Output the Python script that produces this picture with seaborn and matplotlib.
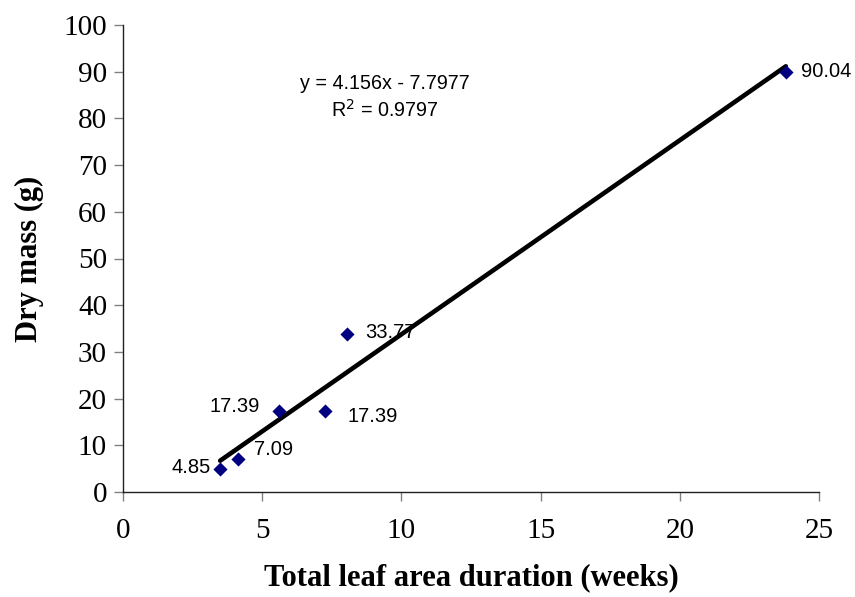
import matplotlib
matplotlib.use("Agg")
import matplotlib.pyplot as plt
import seaborn as sns
import pandas as pd
import numpy as np

# ---- data ----
leaf_area_duration = [3.49, 4.14, 5.61, 7.27, 8.06, 23.81]
dry_mass = [4.85, 7.09, 17.39, 17.39, 33.77, 90.04]
point_labels = ["4.85", "7.09", "17.39", "17.39", "33.77", "90.04"]
slope = 4.156
intercept = -7.7977
r_squared = 0.9797
x_ticks = [0, 5, 10, 15, 20, 25]
y_ticks = [0, 10, 20, 30, 40, 50, 60, 70, 80, 90, 100]

# label offsets in points (dx, dy) and horizontal alignment
label_offsets = [(-7, 1, "right"), (11, 7, "left"), (-14, 3, "right"),
                 (16, -4, "left"), (13, 1, "left"), (11, 0, "left")]

sns.set_style("ticks")
plt.rcParams["font.family"] = ["Liberation Serif", "DejaVu Serif"]
plt.rcParams["text.color"] = "black"
plt.rcParams["axes.labelcolor"] = "black"
plt.rcParams["xtick.labelcolor"] = "black"
plt.rcParams["ytick.labelcolor"] = "black"

df = pd.DataFrame({"x": leaf_area_duration, "y": dry_mass})

fig = plt.figure(figsize=(8.55, 5.97), dpi=100)
ax = fig.add_axes([123 / 855, 1 - 492 / 597, 696 / 855, 467 / 597])

# trend line
xl = np.array([min(leaf_area_duration), max(leaf_area_duration)])
line_df = pd.DataFrame({"x": xl, "y": slope * xl + intercept})
sns.lineplot(data=line_df, x="x", y="y", ax=ax, color="black", linewidth=3.3, zorder=3)

sns.scatterplot(data=df, x="x", y="y", ax=ax, marker="D", s=52,
                color="#000080", edgecolor="#000080", linewidth=0, zorder=4)

for xv, yv, lab, (dx, dy, ha) in zip(leaf_area_duration, dry_mass, point_labels, label_offsets):
    ax.annotate(lab, (xv, yv), xytext=(dx, dy), textcoords="offset points",
                ha=ha, va="center", fontsize=14.5, family="Liberation Sans",
                color="black", zorder=5)

ax.text(9.4, 87.5, f"y = {slope}x - {abs(intercept)}", ha="center", va="center",
        fontsize=14.2, family="Liberation Sans", color="black")
ax.text(9.4, 81.8, f"R$^2$ = {r_squared}", ha="center", va="center",
        fontsize=14.2, family="Liberation Sans", color="black")

ax.set_xlim(0, 25)
ax.set_ylim(0, 100)
ax.set_xticks(x_ticks)
ax.set_yticks(y_ticks)
ax.tick_params(axis="both", labelsize=21, length=6.5, width=1, color="#808080",
               direction="out", pad=5)
ax.tick_params(axis="x", pad=12)
for s in ["top", "right"]:
    ax.spines[s].set_visible(False)
for s in ["left", "bottom"]:
    ax.spines[s].set_color("#202020")
    ax.spines[s].set_linewidth(1)

ax.set_xlabel("Total leaf area duration (weeks)", fontsize=22, fontweight="bold",
              labelpad=14, color="black")
ax.set_ylabel("Dry mass (g)", fontsize=22, fontweight="bold", labelpad=14, color="black")

fig.savefig("out.png", dpi=100)
